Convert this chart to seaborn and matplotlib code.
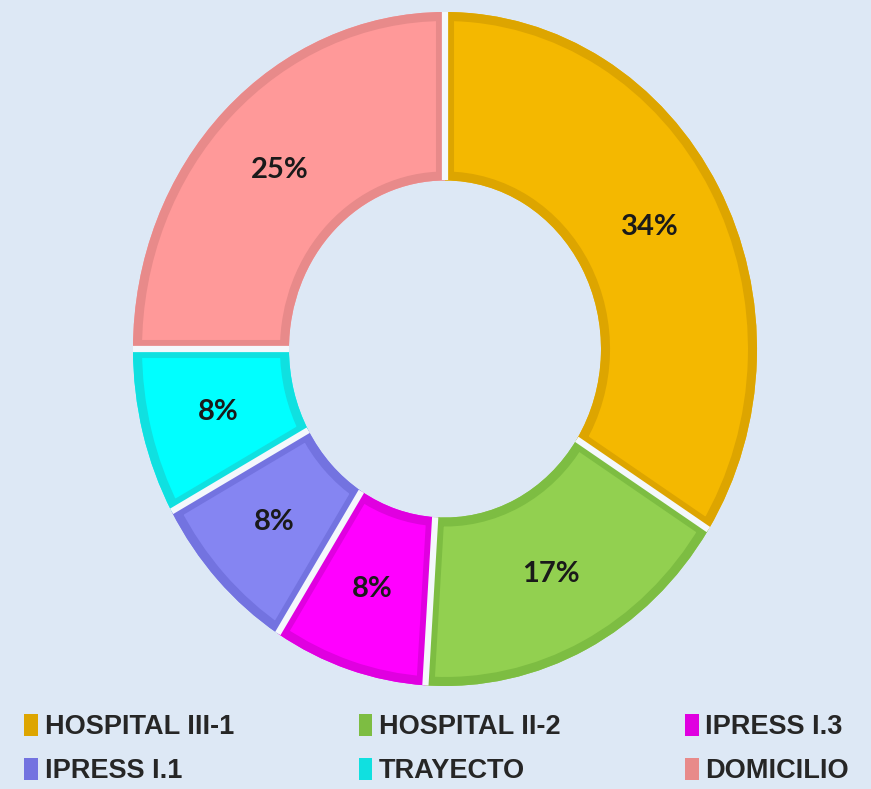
import numpy as np
import matplotlib.pyplot as plt
import seaborn as sns
from matplotlib.patches import Patch, Wedge

# datos
categorias = ['HOSPITAL III-1', 'HOSPITAL II-2', 'IPRESS I.3', 'IPRESS I.1', 'TRAYECTO', 'DOMICILIO']
porcentajes = [34, 17, 8, 8, 8, 25]
colores = ['#F4B800', '#92D050', '#FF00FF', '#8585F2', '#00FFFF', '#FF9999']
bordes = ['#DDA500', '#7DBD42', '#E000E0', '#7373E0', '#10E0E0', '#E88A8A']

sns.set_theme(style='white')
plt.rcParams['font.family'] = ['Lato', 'DejaVu Sans']
fondo = '#DDE8F5'

fig = plt.figure(figsize=(8.71, 7.89), dpi=100, facecolor=fondo)
ax = fig.add_axes([133 / 871, (789 - 686) / 789, 624 / 871, 674 / 789])
ax.set_facecolor(fondo)

wedges, _, autotexts = ax.pie(
    porcentajes, colors=colores, startangle=90, counterclock=False,
    radius=1, autopct='%d%%', pctdistance=0.75,
    wedgeprops=dict(width=0.5, edgecolor='none'),
    textprops=dict(fontsize=21, fontweight='bold', color='#1a1a1a'))
for t, v in zip(autotexts, porcentajes):
    t.set_text(f'{v}%')

# borde interior mas oscuro (recortado a cada porcion)
for w, b in zip(wedges, bordes):
    borde = Wedge(w.center, w.r, w.theta1, w.theta2, width=w.width,
                  fill=False, edgecolor=b, linewidth=13, zorder=w.get_zorder() + 0.1)
    ax.add_patch(borde)
    borde.set_clip_path(w)

# separacion clara entre porciones
angulos = 90 - 360 * np.cumsum([0] + porcentajes[:-1]) / sum(porcentajes)
for a in np.deg2rad(angulos):
    ax.plot([0.5 * np.cos(a), 1.0 * np.cos(a)], [0.5 * np.sin(a), 1.0 * np.sin(a)],
            color='#F4F8FC', linewidth=4.5, solid_capstyle='butt', zorder=3)

ax.set_aspect('auto')
ax.set_xlim(-1.0, 1.0)
ax.set_ylim(-1.0, 1.0)
ax.axis('off')

orden = [0, 3, 1, 4, 2, 5]
handles = [Patch(facecolor=bordes[i], edgecolor='none') for i in orden]
fig.legend(handles, [categorias[i] for i in orden], ncol=3, loc='lower left',
           bbox_to_anchor=(0.0, -0.025),
           frameon=False, handlelength=0.5, handleheight=0.9, handletextpad=0.25,
           columnspacing=4.6, labelspacing=0.65,
           prop=dict(family=['Liberation Sans', 'DejaVu Sans'], weight='bold', size=19.5))

fig.savefig('out.png', dpi=100, facecolor=fondo)
